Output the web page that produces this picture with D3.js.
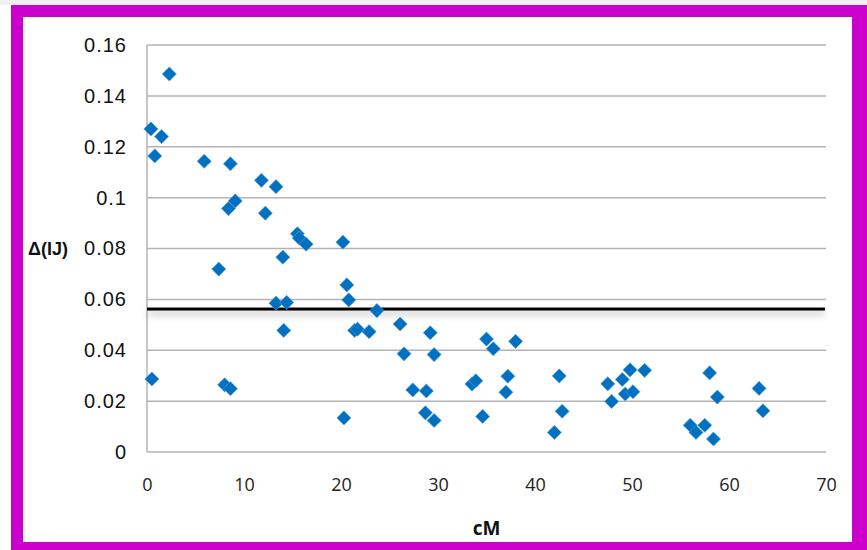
<!DOCTYPE html>
<html>
<head>
<meta charset="utf-8">
<script src="https://cdn.jsdelivr.net/npm/d3@7"></script>
<style>
  body { margin: 0; background: #fff; }
  svg { display: block; }
</style>
</head>
<body>
<div id="chart"></div>
<script>
// cM positions and Δ(IJ) values
var cm = [0.4, 0.8, 1.5, 2.3, 0.5, 5.9, 7.4, 8.0, 8.6, 8.4, 8.6, 9.1, 11.8, 12.2, 13.3, 13.3,
    14.0, 14.1, 14.4, 15.5, 15.7, 16.4, 20.2, 20.3, 20.6, 20.8, 21.4, 21.7, 22.9, 23.7, 26.1, 26.5,
    27.4, 28.7, 28.8, 29.2, 29.6, 29.6, 33.5, 33.9, 34.6, 35.0, 35.7, 37.0, 37.2, 38.0, 42.0, 42.5,
    42.8, 47.5, 47.9, 49.0, 49.3, 49.8, 50.1, 51.3, 56.0, 56.6, 57.5, 58.0, 58.4, 58.8, 63.1, 63.5];
var dij = [0.127, 0.1164, 0.124, 0.1486, 0.0287, 0.1143, 0.0719, 0.0264, 0.0249, 0.0957, 0.1133, 0.0987, 0.1068, 0.0939, 0.1043, 0.0585,
    0.0766, 0.0478, 0.0588, 0.0858, 0.0841, 0.0817, 0.0825, 0.0134, 0.0657, 0.0598, 0.0478, 0.0483, 0.0473, 0.0556, 0.0503, 0.0386,
    0.0244, 0.0154, 0.0240, 0.0469, 0.0383, 0.0124, 0.0267, 0.0280, 0.0140, 0.0444, 0.0406, 0.0235, 0.0298, 0.0435, 0.0077, 0.0299,
    0.0160, 0.0268, 0.0199, 0.0285, 0.0228, 0.0323, 0.0237, 0.0321, 0.0105, 0.0077, 0.0105, 0.0311, 0.0051, 0.0216, 0.0250, 0.0162];
var threshold = 0.0562;
var xTicks = [0, 10, 20, 30, 40, 50, 60, 70];
var yTicks = [0, 0.02, 0.04, 0.06, 0.08, 0.1, 0.12, 0.14, 0.16];

var W = 867, H = 550;
var margin = { top: 45, right: 41, bottom: 98, left: 147 },
    width = W - margin.left - margin.right,
    height = H - margin.top - margin.bottom;

var svg = d3.select("#chart").append("svg")
    .attr("width", W)
    .attr("height", H);

var defs = svg.append("defs");
var f = defs.append("filter").attr("id", "shadow")
    .attr("filterUnits", "userSpaceOnUse")
    .attr("x", -20).attr("y", 0).attr("width", width + 40).attr("height", height);
f.append("feDropShadow")
    .attr("dx", 0).attr("dy", 4)
    .attr("stdDeviation", 3.5)
    .attr("flood-color", "#000")
    .attr("flood-opacity", 0.3);

// frame: grey strip on top, magenta border
svg.append("rect").attr("x", 0).attr("y", 0).attr("width", W).attr("height", 5).attr("fill", "#f0f0f0");
svg.append("rect").attr("x", 11).attr("y", 5).attr("width", W - 11).attr("height", H - 5).attr("fill", "#cc00cc");
svg.append("rect").attr("x", 23).attr("y", 17).attr("width", 829).attr("height", 525).attr("fill", "#fff");

var g = svg.append("g")
    .attr("transform", "translate(" + margin.left + "," + margin.top + ")");

var x = d3.scaleLinear().domain([0, 70]).range([0, width]);
var y = d3.scaleLinear().domain([0, 0.16]).range([height, 0]);

// gridlines
g.append("g").selectAll("line")
    .data(yTicks)
    .enter().append("line")
    .attr("x1", 0).attr("x2", width)
    .attr("y1", function(d) { return y(d); })
    .attr("y2", function(d) { return y(d); })
    .attr("stroke", "#b3b3b3")
    .attr("stroke-width", 1.5);

g.append("line")
    .attr("x1", 0).attr("x2", 0)
    .attr("y1", 0).attr("y2", height)
    .attr("stroke", "#b3b3b3")
    .attr("stroke-width", 1.5);

// axes (labels only)
var yAxis = d3.axisLeft(y).tickValues(yTicks).tickSize(0).tickPadding(20)
    .tickFormat(function(d) { return d === 0 ? "0" : String(+d.toFixed(2)); });
var yg = g.append("g").call(yAxis);
yg.select(".domain").remove();
yg.selectAll("text")
    .attr("font-family", "'Liberation Sans', Arial, sans-serif")
    .attr("font-size", 20)
    .attr("letter-spacing", 1)
    .attr("fill", "#111");

var xAxis = d3.axisBottom(x).tickValues(xTicks).tickSize(0).tickPadding(26)
    .tickFormat(d3.format("d"));
var xg = g.append("g").attr("transform", "translate(0," + height + ")").call(xAxis);
xg.select(".domain").remove();
xg.selectAll("text")
    .attr("font-family", "'Open Sans', sans-serif")
    .attr("font-size", 18)
    .attr("fill", "#222");

// threshold line
g.append("rect")
    .attr("x", 0).attr("width", width - 1)
    .attr("y", y(threshold) - 1.5).attr("height", 3)
    .attr("fill", "#000")
    .attr("filter", "url(#shadow)");

// points
var data = cm.map(function(d, i) { return { cm: d, v: dij[i] }; });
var diamond = d3.symbol().type(d3.symbolSquare).size(100);
g.append("g").selectAll("path")
    .data(data)
    .enter().append("path")
    .attr("d", diamond)
    .attr("transform", function(d) {
        return "translate(" + x(d.cm) + "," + y(d.v) + ") rotate(45)";
    })
    .attr("fill", "#0070c0")
    .attr("stroke", "#5a9fd6")
    .attr("stroke-width", 0.6);

// axis titles
svg.append("text")
    .attr("x", 28).attr("y", 255)
    .attr("font-family", "'Liberation Sans', Arial, sans-serif")
    .attr("font-size", 18)
    .attr("font-weight", "bold")
    .attr("fill", "#111")
    .text("Δ(IJ)");

svg.append("text")
    .attr("x", margin.left + width / 2).attr("y", 535)
    .attr("text-anchor", "middle")
    .attr("font-family", "'Open Sans', sans-serif")
    .attr("font-size", 19)
    .attr("font-weight", "bold")
    .attr("fill", "#111")
    .text("cM");
</script>
</body>
</html>
